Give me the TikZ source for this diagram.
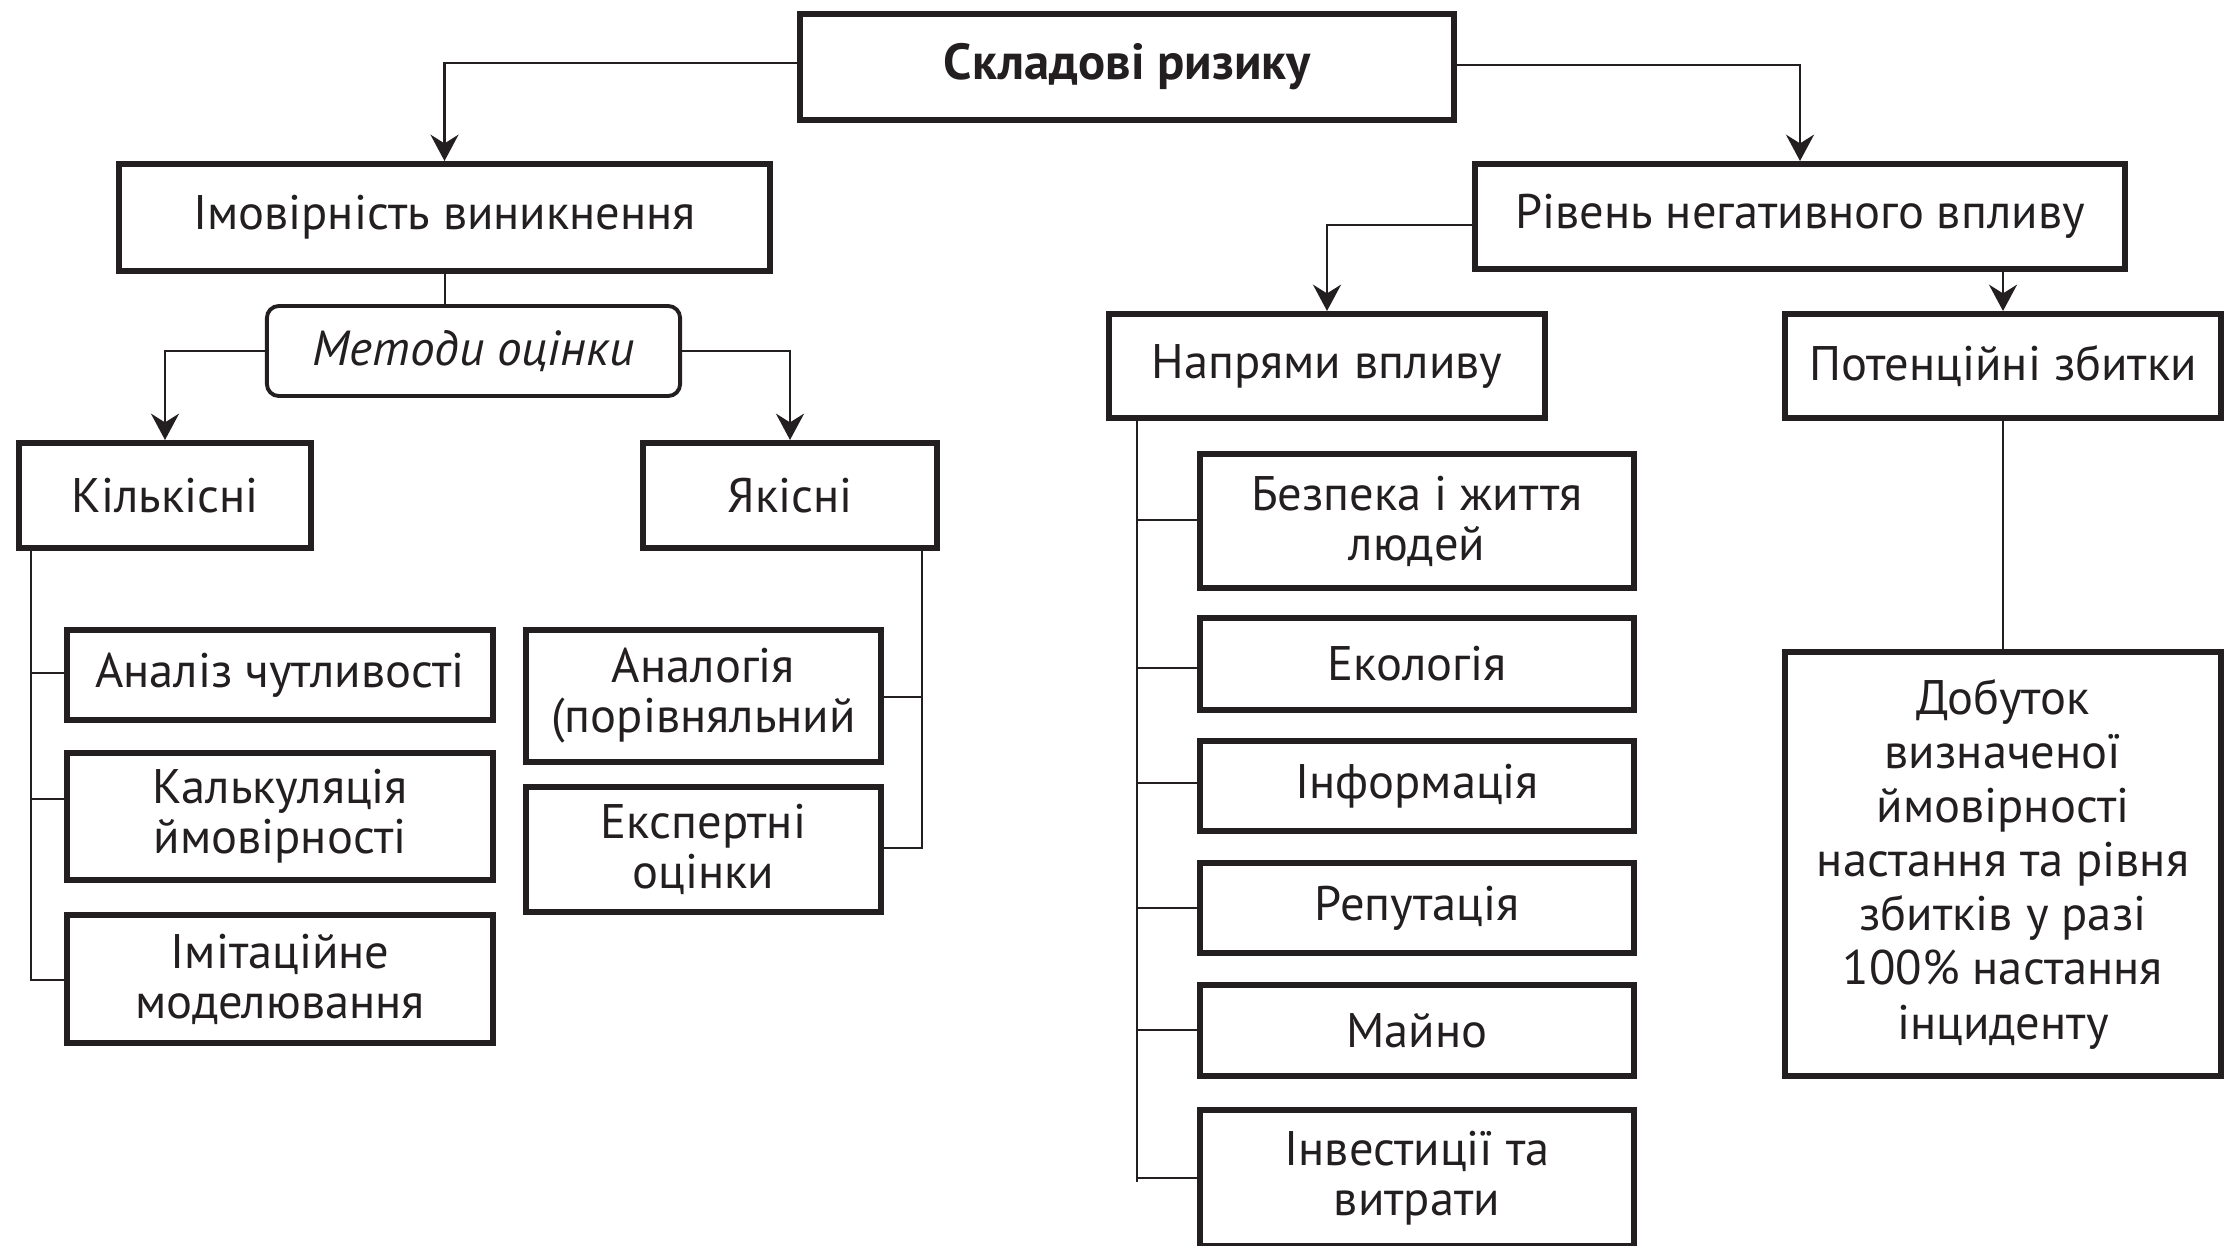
\documentclass[tikz,border=0pt]{standalone}
\usepackage{fontspec}
\setmainfont{PT Sans}
\usetikzlibrary{arrows.meta}
\definecolor{ink}{HTML}{231F20}
\begin{document}
\begin{tikzpicture}[x=0.01cm,y=-0.01cm,
  box/.style={draw=ink, line width=1.7pt, align=center, inner sep=0pt, text=ink,
    font=\fontsize{13.8}{14.2}\selectfont},
  rbox/.style={box, line width=1.1pt, rounded corners=0.12cm},
  conn/.style={line width=0.6pt, draw=ink},
  arr/.style={conn, -{Stealth[length=7.5pt,width=8pt,inset=2.5pt]}}]
\useasboundingbox (0,0) rectangle (2224,1245);
% level 0
\node[box, minimum width=6.54cm, minimum height=1.06cm, font=\fontsize{14.4}{15}\selectfont\bfseries] (top) at (1127,67) {Складові ризику};
% level 1
\node[box, minimum width=6.51cm, minimum height=1.07cm] (imov) at (444.5,217.5) {Імовірність виникнення};
\node[box, minimum width=6.50cm, minimum height=1.05cm] (riven) at (1800,216.5) {Рівень негативного впливу};
% left branch
\node[rbox, minimum width=4.13cm, minimum height=0.90cm, font=\fontsize{14}{15}\selectfont\itshape] (met) at (473.5,351) {Методи оцінки};
\node[box, minimum width=2.92cm, minimum height=1.05cm] (kilk) at (165,495.5) {Кількісні};
\node[box, minimum width=2.94cm, minimum height=1.05cm] (yak) at (790,495.5) {Якісні};
\node[box, minimum width=4.26cm, minimum height=0.90cm] (anal) at (280,675) {Аналіз чутливості};
\node[box, minimum width=4.26cm, minimum height=1.27cm] (kalk) at (280,816.5) {Калькуляція\\ймовірності};
\node[box, minimum width=4.26cm, minimum height=1.28cm] (imit) at (280,979) {Імітаційне\\моделювання};
\node[box, minimum width=3.55cm, minimum height=1.32cm] (analog) at (703.5,696) {Аналогія\\(порівняльний};
\node[box, minimum width=3.55cm, minimum height=1.25cm] (eksp) at (703.5,849.5) {Експертні\\оцінки};
% right branch
\node[box, minimum width=4.36cm, minimum height=1.04cm] (napr) at (1327,366) {Напрями впливу};
\node[box, minimum width=4.36cm, minimum height=1.04cm] (poten) at (2003,366) {Потенційні збитки};
\node[box, minimum width=4.34cm, minimum height=1.34cm] (bezp) at (1417,521) {Безпека і життя\\людей};
\node[box, minimum width=4.34cm, minimum height=0.92cm] (ekol) at (1417,664) {Екологія};
\node[box, minimum width=4.34cm, minimum height=0.90cm] (inf) at (1417,786) {Інформація};
\node[box, minimum width=4.34cm, minimum height=0.90cm] (rep) at (1417,908) {Репутація};
\node[box, minimum width=4.34cm, minimum height=0.91cm] (mayno) at (1417,1030.5) {Майно};
\node[box, minimum width=4.34cm, minimum height=1.36cm] (inv) at (1417,1178) {Інвестиції та\\витрати};
\node[box, minimum width=4.36cm, minimum height=4.24cm, font=\fontsize{13.8}{15.4}\selectfont] (dob) at (2003,864) {Добуток\\визначеної\\ймовірності\\настання та рівня\\збитків у разі\\100\% настання\\інциденту};
% connectors from top
\draw[arr] (top.west |- 0,63) -| (imov.north);
\draw[arr] (top.east |- 0,65) -| (riven.north);
% left tree
\draw[conn] (imov.south -| 445,0) -- (met.north -| 445,0);
\draw[arr] (met.west) -| (kilk.north);
\draw[arr] (met.east) -| (yak.north);
\coordinate (kl) at (31,980);
\draw[conn] (kilk.south -| kl) -- (kl) -- (imit.west |- kl);
\draw[conn] (kl |- 0,673) -- (anal.west |- 0,673);
\draw[conn] (kl |- 0,799) -- (kalk.west |- 0,799);
\coordinate (yk) at (922,848);
\draw[conn] (yak.south -| yk) -- (yk) -- (eksp.east |- yk);
\draw[conn] (yk |- 0,697) -- (analog.east |- 0,697);
% right tree
\draw[arr] (riven.west |- 0,225) -| (napr.north);
\draw[arr] (riven.south -| poten.north) -- (poten.north);
\draw[conn] (poten.south) -- (dob.north);
\coordinate (nk) at (1137,1182);
\draw[conn] (napr.south -| nk) -- (nk);
\draw[conn] (nk |- 0,520) -- (bezp.west |- 0,520);
\draw[conn] (nk |- 0,668) -- (ekol.west |- 0,668);
\draw[conn] (nk |- 0,783) -- (inf.west |- 0,783);
\draw[conn] (nk |- 0,908) -- (rep.west |- 0,908);
\draw[conn] (nk |- 0,1030) -- (mayno.west |- 0,1030);
\draw[conn] (nk |- 0,1178) -- (inv.west |- 0,1178);
\end{tikzpicture}
\end{document}
